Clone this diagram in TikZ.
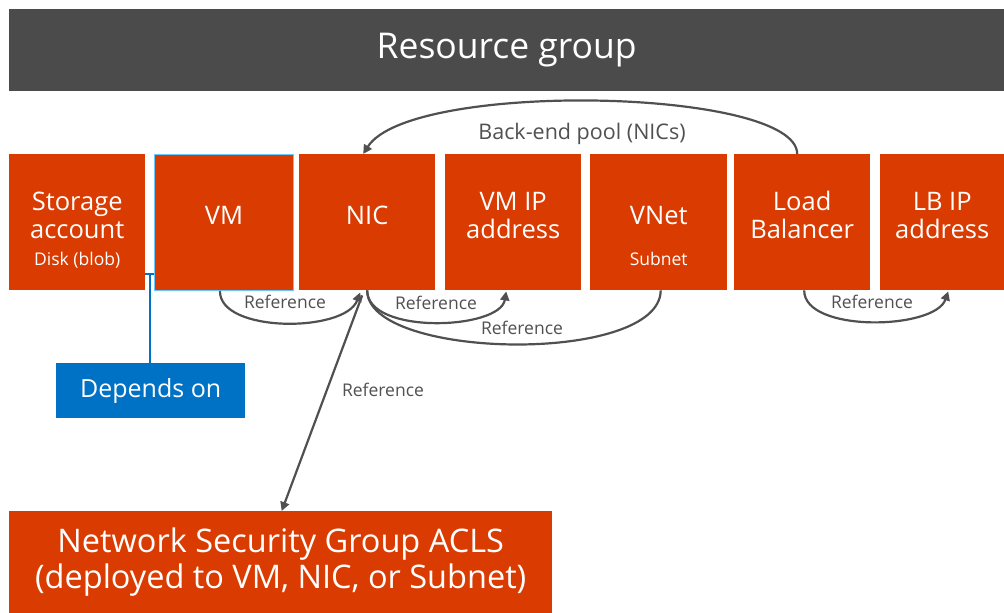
\documentclass[tikz,border=0pt]{standalone}
\usepackage{fontspec}
\setmainfont{Open Sans}
\usetikzlibrary{arrows.meta}
\definecolor{azorange}{RGB}{218,59,1}
\definecolor{azgray}{RGB}{75,75,75}
\definecolor{azblue}{RGB}{0,114,198}
\definecolor{azline}{RGB}{80,80,80}

\begin{document}
\begin{tikzpicture}[x=1pt,y=-1pt,
    resbox/.style={fill=azorange,anchor=north west,minimum width=136pt,minimum height=136pt,inner sep=0pt},
    boxtitle/.style={text=white,align=center,font=\fontsize{25.5}{28}\selectfont},
    boxsub/.style={text=white,font=\fontsize{17.5}{20}\selectfont},
    refline/.style={line width=2.2pt,draw=azline,-{Triangle[length=9pt,width=9pt]}},
    reftext/.style={text=azline,font=\fontsize{17.5}{20}\selectfont}]
  \useasboundingbox (0,0) rectangle (1004,613);
  % Resource group header
  \node[fill=azgray,anchor=north west,minimum width=995pt,minimum height=82pt,inner sep=0pt] (rg) at (9,9) {};
  \node[text=white,font=\fontsize{35.5}{40}\selectfont] (rgtext) at (rg.center) {Resource group};
  % resource boxes
  \node[resbox] (sa) at (9,154) {};
  \node[resbox,minimum width=139pt,draw=blue!35!cyan!60!white,line width=1pt] (vm) at (154,154) {};
  \node[resbox] (nic) at (299,154) {};
  \node[resbox] (vmip) at (445,154) {};
  \node[resbox,minimum width=137pt] (vnet) at (590,154) {};
  \node[resbox] (lb) at (734,154) {};
  \node[resbox,minimum width=124pt] (lbip) at (880,154) {};
  \node[boxtitle] (satext) at ([yshift=7pt]sa.center) {Storage\\account};
  \node[boxsub] (sasub) at ([yshift=-38pt]sa.center) {Disk (blob)};
  \node[boxtitle] (vmtext) at ([yshift=7pt]vm.center) {VM};
  \node[boxtitle] (nictext) at ([yshift=7pt]nic.center) {NIC};
  \node[boxtitle] (vmiptext) at ([yshift=7pt]vmip.center) {VM IP\\address};
  \node[boxtitle] (vnettext) at ([yshift=7pt]vnet.center) {VNet};
  \node[boxsub] (vnetsub) at ([yshift=-37pt]vnet.center) {Subnet};
  \node[boxtitle] (lbtext) at ([yshift=7pt]lb.center) {Load\\Balancer};
  \node[boxtitle] (lbiptext) at ([yshift=7pt]lbip.center) {LB IP\\address};
  % network security group
  \node[fill=azorange,anchor=north west,minimum width=543pt,minimum height=102pt,inner sep=0pt] (nsg) at (9,511) {};
  \node[text=white,align=center,font=\fontsize{32.5}{36}\selectfont] (nsgtext) at (nsg.center) {Network Security Group ACLS\\(deployed to VM, NIC, or Subnet)};
  % depends on
  \node[fill=azblue,anchor=north west,minimum width=189pt,minimum height=55pt,inner sep=0pt,text=white,font=\fontsize{25}{28}\selectfont] (dep) at (56,363) {Depends on};
  \coordinate (tee) at (150,274);
  \draw[azblue,line width=2pt] (sa.east |- tee) -- (vm.west |- tee);
  \draw[azblue,line width=2pt] (tee) -- (dep.north -| tee);
  % back-end pool
  \draw[refline] ([xshift=-5pt]lb.north) .. controls (797,88) and (410,80) .. ([xshift=-4pt]nic.north);
  \node[text=azline,font=\fontsize{21.5}{25}\selectfont] (pooltext) at (582,134) {Back-end pool (NICs)};
  % references
  \draw[refline] ([xshift=-4pt]vm.south) .. controls (219,333) and (345,333) .. ([xshift=-7pt,yshift=-2pt]nic.south);
  \node[reftext] (ref1) at (285,302) {Reference};
  \draw[refline] (nic.south) .. controls (367,335) and (500,330) .. ([xshift=-7pt,yshift=-1pt]vmip.south);
  \node[reftext] (ref2) at (436,303) {Reference};
  \draw[line width=2.2pt,draw=azline] ([xshift=2pt]vnet.south) .. controls (660,365) and (367,360) .. (nic.south);
  \node[reftext] (ref3) at (522,328) {Reference};
  \draw[refline] ([xshift=2pt]lb.south) .. controls (804,333) and (935,330) .. ([xshift=6pt,yshift=-1pt]lbip.south);
  \node[reftext] (ref4) at (872,302) {Reference};
  \draw[refline] ([xshift=-5pt,yshift=-5pt]nic.south) -- ([xshift=1pt]nsg.north);
  \node[reftext] (ref5) at (383,390) {Reference};
\end{tikzpicture}
\end{document}
